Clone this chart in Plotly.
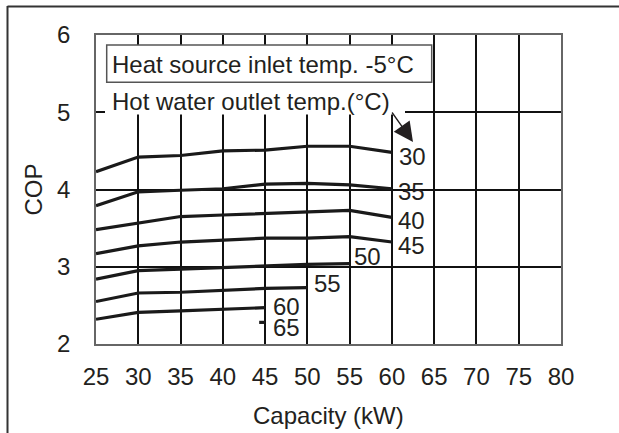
import plotly.graph_objects as go

# ---------------- data ----------------
capacity = [25, 30, 35, 40, 45, 50, 55, 60]
cop_30 = [4.23, 4.42, 4.44, 4.50, 4.51, 4.56, 4.56, 4.48]
cop_35 = [3.79, 3.97, 3.99, 4.01, 4.07, 4.08, 4.06, 4.01]
cop_40 = [3.48, 3.57, 3.65, 3.67, 3.69, 3.71, 3.73, 3.64]
cop_45 = [3.17, 3.27, 3.32, 3.35, 3.37, 3.37, 3.39, 3.32]
cop_50 = [2.84, 2.95, 2.97, 2.99, 3.02, 3.03, 3.04]
cop_55 = [2.55, 2.66, 2.67, 2.70, 2.72, 2.73]
cop_60 = [2.32, 2.41, 2.43, 2.45, 2.47]
cap_65 = [44.3, 45]
cop_65 = [2.28, 2.28]

series_names = ["30", "35", "40", "45", "50", "55", "60", "65"]
x_ticks = [25, 30, 35, 40, 45, 50, 55, 60, 65, 70, 75, 80]
y_ticks = [2, 3, 4, 5, 6]

# ---------------- style ----------------
FONT = "Liberation Sans, Arial, sans-serif"
TXT = "#231f20"
FS = 24
# label offsets (px) relative to each curve's last point
label_shift = {
    "30": (5, -4), "35": (4, -3), "40": (4, -3), "45": (4, -3),
    "50": (2, 7), "55": (5, 4), "60": (6, 1), "65": (6, -5),
}

xs = [capacity, capacity, capacity, capacity,
      capacity[:7], capacity[:6], capacity[:5], cap_65]
ys = [cop_30, cop_35, cop_40, cop_45, cop_50, cop_55, cop_60, cop_65]

fig = go.Figure()
for name, x, y in zip(series_names, xs, ys):
    fig.add_trace(go.Scatter(x=x, y=y, mode="lines", name=name,
                             line=dict(color="#1a1a1a", width=3.2),
                             showlegend=False, hoverinfo="skip"))

annotations = []
for name, x, y in zip(series_names, xs, ys):
    dx, dy = label_shift[name]
    annotations.append(dict(x=x[-1], y=y[-1], xref="x", yref="y", text=name,
                            showarrow=False, xanchor="left", yanchor="middle",
                            xshift=dx, yshift=dy,
                            font=dict(family=FONT, size=FS, color=TXT)))

# plot area in pixels
L, R, T, B = 96, 561, 35, 344
W, H = 619, 433


def px(xp):
    return (xp - L) / (R - L)


def py(yp):
    return (B - yp) / (B - T)


shapes = [
    # white background behind the second caption (interrupts grid)
    dict(type="rect", xref="paper", yref="paper", x0=px(105), x1=px(405),
         y0=py(114.5), y1=py(82), fillcolor="white", line=dict(width=0),
         layer="above"),
    # caption box
    dict(type="rect", xref="paper", yref="paper", x0=px(106.7), x1=px(431.7),
         y0=py(82.3), y1=py(45), fillcolor="white",
         line=dict(color="#555555", width=1.5), layer="above"),
    # outer frame (left and top edges)
    dict(type="line", xref="paper", yref="paper", x0=px(7.5), x1=px(7.5),
         y0=py(6), y1=py(460), line=dict(color="#333333", width=2)),
    dict(type="line", xref="paper", yref="paper", x0=px(7.5), x1=px(640),
         y0=py(6.5), y1=py(6.5), line=dict(color="#333333", width=2)),
]

annotations += [
    dict(x=px(110), y=py(64), xref="paper", yref="paper",
         text="Heat source inlet temp. -5°C", showarrow=False,
         xanchor="left", yanchor="middle",
         font=dict(family=FONT, size=FS, color=TXT)),
    dict(x=px(110), y=py(101.5), xref="paper", yref="paper",
         text="Hot water outlet temp.(°C)", showarrow=False,
         xanchor="left", yanchor="middle",
         font=dict(family=FONT, size=FS, color=TXT)),
    dict(x=px(413), y=py(142), xref="paper", yref="paper", text="",
         showarrow=True, ax=-22, ay=-31, axref="pixel", ayref="pixel",
         arrowhead=2, arrowsize=3, arrowwidth=1.3, arrowcolor="#231f20"),
    # axis titles
    dict(x=0.5, y=py(415), xref="paper", yref="paper", text="Capacity (kW)",
         showarrow=False, xanchor="center", yanchor="middle",
         font=dict(family=FONT, size=FS, color=TXT)),
    dict(x=px(33), y=0.5, xref="paper", yref="paper", text="COP",
         showarrow=False, xanchor="center", yanchor="middle", textangle=-90,
         font=dict(family=FONT, size=FS, color=TXT)),
]

fig.update_layout(
    width=W, height=H,
    margin=dict(l=L, r=W - R, t=T, b=H - B, autoexpand=False),
    paper_bgcolor="white", plot_bgcolor="white",
    font=dict(family=FONT, size=FS, color=TXT),
    shapes=shapes, annotations=annotations,
    xaxis=dict(range=[25, 80], tickvals=x_ticks, ticktext=[str(v) for v in x_ticks],
               showgrid=True, gridcolor="#111111", gridwidth=2,
               showline=True, linecolor="#666666", linewidth=1.5, mirror=True,
               ticks="", zeroline=False, ticklabelstandoff=10,
               tickfont=dict(family=FONT, size=FS, color=TXT), fixedrange=True),
    yaxis=dict(range=[2, 6], tickvals=y_ticks, ticktext=[str(v) for v in y_ticks],
               showgrid=True, gridcolor="#111111", gridwidth=1.5,
               showline=True, linecolor="#666666", linewidth=1.5, mirror=True,
               ticks="", zeroline=False, ticklabelstandoff=19,
               tickfont=dict(family=FONT, size=FS, color=TXT), fixedrange=True),
)

fig.write_html("out.html", config={"displayModeBar": False},
               post_script="document.body.style.margin='0';")
